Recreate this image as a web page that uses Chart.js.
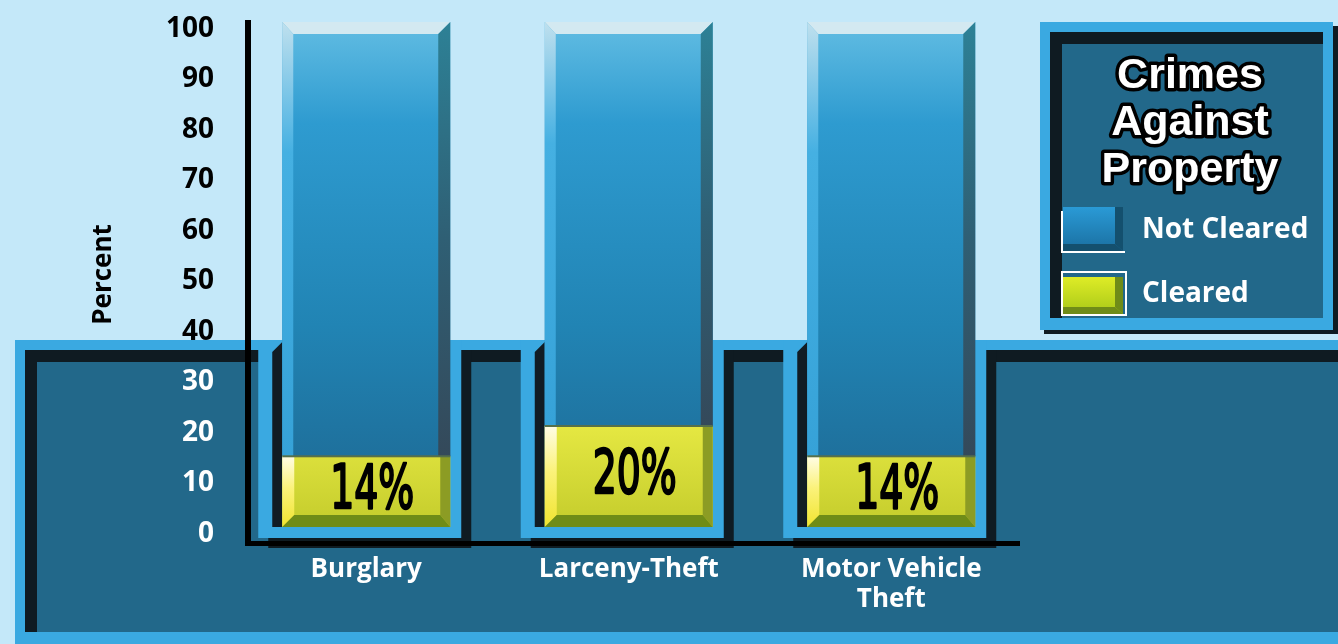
<!DOCTYPE html>
<html>
<head>
<meta charset="utf-8">
<style>
  html, body { margin: 0; padding: 0; background: #c4e8f9; }
  canvas { display: block; }
</style>
<script src="https://cdn.jsdelivr.net/npm/chart.js"></script>
</head>
<body>
<canvas id="chart" width="1338" height="644"></canvas>
<script>
// data
const categories = ["Burglary", "Larceny-Theft", ["Motor Vehicle", "Theft"]];
const cleared = [14, 20, 14];
const notCleared = [86, 80, 86];
const yTickMin = 0;
const yTickMax = 100;
const yTickStep = 10;
const legendTitle = ["Crimes", "Against", "Property"];

const FONT = "'Open Sans', 'Noto Sans', sans-serif";
const BRIGHT = "#3aa9e1";
const SHADOW = "#0f1b22";
const PANEL = "#22688a";

function poly(ctx, pts, color) {
  if (!color) return;
  ctx.fillStyle = color;
  ctx.beginPath();
  pts.forEach((p, i) => (i ? ctx.lineTo(p[0], p[1]) : ctx.moveTo(p[0], p[1])));
  ctx.closePath();
  ctx.fill();
}

// bevelled edges of a box
function bevel(ctx, l, t, r, b, s, cols) {
  poly(ctx, [[l, t], [r, t], [r - s.r, t + s.t], [l + s.l, t + s.t]], cols.top);
  poly(ctx, [[l, t], [l + s.l, t + s.t], [l + s.l, b - s.b], [l, b]], cols.left);
  poly(ctx, [[r, t], [r, b], [r - s.r, b - s.b], [r - s.r, t + s.t]], cols.right);
  poly(ctx, [[l, b], [l + s.l, b - s.b], [r - s.r, b - s.b], [r, b]], cols.bottom);
}

function vgrad(ctx, y0, y1, stops) {
  const g = ctx.createLinearGradient(0, y0, 0, y1);
  stops.forEach(([o, c]) => g.addColorStop(o, c));
  return g;
}

function blueFill(c) {
  const a = c.chart.chartArea;
  if (!a) return "#2185b5";
  return vgrad(c.chart.ctx, a.top, a.bottom, [[0, "#62bde3"], [0.2, "#2e9bd0"], [0.6, "#2184b4"], [1, "#1d6690"]]);
}

function yellowFill(c) {
  const a = c.chart.chartArea;
  if (!a) return "#d4dc34";
  return vgrad(c.chart.ctx, a.bottom - 110, a.bottom, [[0, "#e8ea44"], [1, "#c4cc2c"]]);
}

// light background, dark panel and the wells round each bar
const backdrop = {
  id: "backdrop",
  beforeDraw(chart) {
    const { ctx, width, height } = chart;
    ctx.save();
    ctx.fillStyle = "#c4e8f9";
    ctx.fillRect(0, 0, width, height);
    const top = 340;
    ctx.fillStyle = BRIGHT;
    ctx.fillRect(15, top, width - 15, height - top);
    ctx.fillStyle = SHADOW;
    ctx.fillRect(25, top + 10, width - 25, 632 - top - 10);
    ctx.fillStyle = PANEL;
    ctx.fillRect(37, top + 22, width - 37, 632 - top - 22);
    ctx.restore();
  },
  beforeDatasetsDraw(chart) {
    const { ctx } = chart;
    const meta = chart.getDatasetMeta(0);
    ctx.save();
    meta.data.forEach((bar) => {
      const L = bar.x - bar.width / 2, R = bar.x + bar.width / 2, B = bar.base;
      ctx.fillStyle = SHADOW;
      ctx.fillRect(L - 14, 350, R + 21 - (L - 14), B + 21 - 350);
      ctx.fillStyle = BRIGHT;
      ctx.fillRect(L - 24, 340, R + 11 - (L - 24), B + 11 - 340);
      poly(ctx, [[L - 10, 352], [L, 342], [L, B], [L - 10, B]], "#111c24");
    });
    ctx.restore();
  },
  afterDatasetsDraw(chart) {
    const { ctx, chartArea } = chart;
    ctx.save();
    // bevels on the bars
    chart.getDatasetMeta(1).data.forEach((bar) => {
      const l = bar.x - bar.width / 2, r = bar.x + bar.width / 2;
      bevel(ctx, l, bar.y, r, bar.base, { t: 12, l: 11, r: 12, b: 0 }, {
        top: "#d3e9f1",
        left: vgrad(ctx, bar.y, bar.base, [[0, "#bfe0ee"], [0.3, "#45b0e2"], [1, "#36a2d8"]]),
        right: vgrad(ctx, bar.y, bar.base, [[0, "#2d8196"], [0.5, "#2f5f74"], [1, "#34495a"]])
      });
    });
    chart.getDatasetMeta(0).data.forEach((bar) => {
      const l = bar.x - bar.width / 2, r = bar.x + bar.width / 2;
      bevel(ctx, l, bar.y, r, bar.base, { t: 0, l: 12, r: 10, b: 12 }, {
        left: vgrad(ctx, bar.y, bar.base, [[0, "#fffde6"], [0.45, "#fbf27a"], [1, "#f0e430"]]),
        right: "#8c9c24",
        bottom: "#6f8c18"
      });
      ctx.fillStyle = "#56704a";
      ctx.fillRect(l, bar.y - 1, r - l, 2);
    });
    // axis lines
    ctx.fillStyle = "#000";
    ctx.fillRect(chartArea.left + 10, 20, 6, 546 - 20);
    ctx.fillRect(chartArea.left + 10, 541, 1020 - chartArea.left - 10, 5);
    ctx.restore();
  }
};

// percentage text on the cleared part of each bar
const valueLabels = {
  id: "valueLabels",
  afterDatasetsDraw(chart) {
    const { ctx } = chart;
    ctx.save();
    ctx.font = "58px 'Liberation Sans Narrow', 'DejaVu Sans Condensed', 'Roboto Condensed', sans-serif";
    ctx.fillStyle = "#000";
    ctx.strokeStyle = "#000";
    ctx.lineWidth = 2.2;
    ctx.lineJoin = "round";
    ctx.textAlign = "center";
    ctx.textBaseline = "middle";
    const sx = 84 / ctx.measureText("14%").width;
    chart.getDatasetMeta(0).data.forEach((bar, i) => {
      ctx.save();
      ctx.translate(bar.x + 6, (bar.y + bar.base) / 2 + 1);
      ctx.scale(sx, 1.05);
      ctx.fillText(cleared[i] + "%", 0, 0);
      ctx.strokeText(cleared[i] + "%", 0, 0);
      ctx.restore();
    });
    ctx.restore();
  }
};

// framed legend box on the right
const legendBox = {
  id: "legendBox",
  afterDraw(chart) {
    const { ctx } = chart;
    ctx.save();
    ctx.fillStyle = SHADOW;
    ctx.fillRect(1044, 26, 294, 308);
    ctx.fillStyle = BRIGHT;
    ctx.fillRect(1040, 22, 293, 308);
    ctx.fillStyle = SHADOW;
    ctx.fillRect(1050, 32, 273, 286);
    ctx.fillStyle = PANEL;
    ctx.fillRect(1062, 44, 261, 274);

    ctx.textAlign = "center";
    ctx.textBaseline = "middle";
    ctx.font = "bold 43px 'Liberation Sans', Arial, sans-serif";
    ctx.lineJoin = "round";
    ctx.lineWidth = 7;
    ctx.strokeStyle = "#000";
    ctx.fillStyle = "#fff";
    legendTitle.forEach((t, i) => {
      const y = 76 + i * 47;
      ctx.strokeText(t, 1190, y);
      ctx.fillText(t, 1190, y);
    });

    const items = [
      { label: chart.data.datasets[1].label, y: 207, h: 44, stops: [[0, "#2a9ad6"], [1, "#1a6fa0"]], edge: "#14506e" },
      { label: chart.data.datasets[0].label, y: 273, h: 41, stops: [[0, "#e4f028"], [1, "#a8c818"]], edge: "#6f8c18" }
    ];
    items.forEach((it, i) => {
      const l = 1063, r = 1125, t = it.y, b = it.y + it.h;
      ctx.fillStyle = "#fff";
      if (i === 0) {
        ctx.fillRect(l - 2, t + 4, 2, it.h - 4);
        ctx.fillRect(l - 2, b, r - l + 2, 2);
      } else {
        ctx.fillRect(l - 2, t - 2, r - l + 4, it.h + 4);
        ctx.fillStyle = PANEL;
        ctx.fillRect(l, t, r - l, it.h);
      }
      ctx.fillStyle = vgrad(ctx, t, b, it.stops);
      ctx.fillRect(l, t + (i === 0 ? 0 : 4), r - l - 2, it.h - (i === 0 ? 0 : 4));
      bevel(ctx, l, t + (i === 0 ? 0 : 4), r - 2, b, { t: 0, l: 0, r: 8, b: 7 }, { right: it.edge, bottom: it.edge });
      ctx.fillStyle = "#fff";
      ctx.textAlign = "left";
      ctx.font = "bold 28px " + FONT;
      ctx.fillText(it.label, 1142, t + it.h / 2 + 1);
    });
    ctx.restore();
  }
};

const chart = new Chart(document.getElementById("chart").getContext("2d"), {
  type: "bar",
  data: {
    labels: categories,
    datasets: [
      { label: "Cleared", data: cleared, backgroundColor: yellowFill, borderWidth: 0 },
      { label: "Not Cleared", data: notCleared, backgroundColor: blueFill, borderWidth: 0 }
    ]
  },
  options: {
    responsive: false,
    animation: false,
    devicePixelRatio: 1,
    layout: { padding: { top: 22, right: 315.5, left: 0, bottom: 0 } },
    datasets: { bar: { barPercentage: 0.64, categoryPercentage: 1 } },
    plugins: { legend: { display: false }, tooltip: { enabled: false } },
    scales: {
      x: {
        stacked: true,
        grid: { display: false, drawTicks: false },
        border: { display: false },
        ticks: {
          color: "#fff",
          font: { family: FONT, size: 26, weight: "bold", lineHeight: 1.18 },
          padding: 27,
          maxRotation: 0,
          autoSkip: false
        },
        afterFit(scale) { scale.height = 117; scale.paddingLeft = 0; scale.paddingRight = 0; }
      },
      y: {
        stacked: true,
        min: yTickMin,
        max: yTickMax,
        grid: { display: false, drawTicks: false },
        border: { display: false },
        ticks: {
          stepSize: yTickStep,
          color: (c) => (c.tick.value >= 40 ? "#000" : "#fff"),
          font: { family: FONT, size: 28, weight: "bold" },
          padding: 21,
          labelOffset: 7
        },
        title: {
          display: true,
          text: "Percent",
          color: "#000",
          font: { family: FONT, size: 26, weight: "bold" },
          padding: { top: 88, bottom: 0 }
        },
        afterFit(scale) { scale.width = 235; scale.paddingTop = 0; scale.paddingBottom = 0; }
      }
    }
  },
  plugins: [backdrop, valueLabels, legendBox]
});
</script>
</body>
</html>
